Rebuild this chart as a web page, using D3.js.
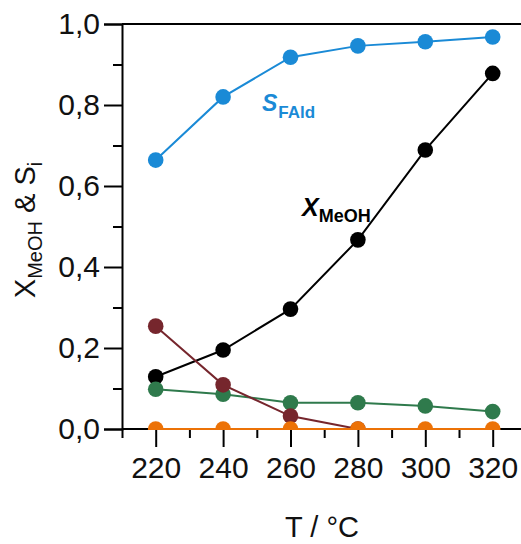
<!DOCTYPE html>
<html>
<head>
<meta charset="utf-8">
<script src="https://cdn.jsdelivr.net/npm/d3@7"></script>
<style>
  html, body { margin: 0; padding: 0; background: #fff; }
  svg { display: block; font-family: "Liberation Sans", Arial, sans-serif; }
</style>
</head>
<body>
<svg id="chart" width="521" height="544"></svg>
<script>
// Reaction temperature (°C)
const temperatures = [220, 240, 260, 280, 300, 320];

// Formaldehyde selectivity
const sFAld = [0.664, 0.820, 0.918, 0.946, 0.956, 0.968];
// Methanol conversion
const xMeOH = [0.129, 0.195, 0.296, 0.467, 0.689, 0.878];
// By-product selectivities
const sGreen = [0.098, 0.086, 0.065, 0.065, 0.057, 0.043];
const sMaroonT = [220, 240, 260, 280];
const sMaroon = [0.254, 0.109, 0.032, 0.0];
const sOrange = [0.0, 0.0, 0.0, 0.0, 0.0, 0.0];

const yMajorTicks = [0, 0.2, 0.4, 0.6, 0.8, 1.0];
const yMinorTicks = [0.1, 0.3, 0.5, 0.7, 0.9];
const xMajorTicks = [220, 240, 260, 280, 300, 320];
const xMinorTicks = [210, 230, 250, 270, 290, 310];

const W = 521, H = 544;
const svg = d3.select("#chart");

const x = d3.scaleLinear().domain([210, 330]).range([122, 526.4]);
const y = d3.scaleLinear().domain([0, 1]).range([429, 24]);

const fmt = d => d3.format(".1f")(d).replace(".", ",");

// Top frame line
svg.append("line")
  .attr("x1", x(210)).attr("x2", W)
  .attr("y1", y(1)).attr("y2", y(1))
  .attr("stroke", "#000").attr("stroke-width", 2);

// Y axis: major ticks with labels, minor ticks without
svg.append("g").attr("transform", `translate(${x(210)},0)`)
  .call(d3.axisLeft(y).tickValues(yMajorTicks).tickSize(18).tickPadding(4).tickFormat(fmt));
svg.append("g").attr("transform", `translate(${x(210)},0)`)
  .call(d3.axisLeft(y).tickValues(yMinorTicks).tickSize(9).tickFormat(""))
  .select(".domain").remove();

// X axis
const xAxisG = svg.append("g").attr("transform", `translate(0,${y(0)})`)
  .call(d3.axisBottom(x).tickValues(xMajorTicks).tickSize(18).tickPadding(10).tickFormat(d3.format("d")));
svg.append("g").attr("transform", `translate(0,${y(0)})`)
  .call(d3.axisBottom(x).tickValues(xMinorTicks).tickSize(9).tickFormat(""))
  .select(".domain").remove();

svg.selectAll(".domain").attr("stroke-width", 2);
svg.selectAll(".tick line").attr("stroke-width", 2);
svg.selectAll(".tick text").attr("font-size", 30).attr("fill", "#111")
  .attr("font-family", "'Liberation Sans', Arial, sans-serif");
xAxisG.select(".domain").attr("d", `M${x(210)},0H${W}`);

// Clip data marks at the x axis
svg.append("defs").append("clipPath").attr("id", "plotClip")
  .append("rect").attr("x", 0).attr("y", 0).attr("width", W).attr("height", y(0) + 1);

const plot = svg.append("g").attr("clip-path", "url(#plotClip)");

const line = d3.line().x(d => x(d[0])).y(d => y(d[1]));

function series(ts, vs, color) {
  const pts = ts.map((t, i) => [t, vs[i]]);
  const g = plot.append("g");
  g.append("path").datum(pts).attr("d", line)
    .attr("fill", "none").attr("stroke", color).attr("stroke-width", 2);
  g.selectAll("circle").data(pts).join("circle")
    .attr("cx", d => x(d[0])).attr("cy", d => y(d[1])).attr("r", 7.8)
    .attr("fill", color);
}

series(temperatures, sFAld, "#1a8ad6");
series(temperatures, xMeOH, "#000000");
series(temperatures, sGreen, "#2f7a4c");
series(sMaroonT, sMaroon, "#76262d");
series(temperatures, sOrange, "#ec7207");

// Series labels
const sLab = svg.append("text").attr("x", 262).attr("y", 111).attr("fill", "#1a8ad6");
sLab.append("tspan").text("S").attr("font-size", 23).attr("font-style", "italic").attr("font-weight", "bold");
sLab.append("tspan").text("FAld").attr("font-size", 17).attr("font-weight", "bold").attr("dy", 7).attr("dx", 1);

const xLab = svg.append("text").attr("x", 302).attr("y", 216).attr("fill", "#000");
xLab.append("tspan").text("X").attr("font-size", 25).attr("font-style", "italic").attr("font-weight", "bold");
xLab.append("tspan").text("MeOH").attr("font-size", 18).attr("font-weight", "bold").attr("dy", 6).attr("dx", 0);

// Axis titles
const yTitle = svg.append("text")
  .attr("transform", `translate(35,230) rotate(-90)`)
  .attr("text-anchor", "middle").attr("font-size", 29).attr("fill", "#111");
yTitle.append("tspan").text("X");
yTitle.append("tspan").text("MeOH").attr("font-size", 20).attr("dy", 7);
yTitle.append("tspan").text(" & S").attr("dy", -7);
yTitle.append("tspan").text("i").attr("font-size", 20).attr("dy", 7);

svg.append("text").attr("x", 322).attr("y", 537).attr("text-anchor", "middle")
  .attr("font-size", 29).attr("fill", "#111").text("T / °C");
</script>
</body>
</html>
